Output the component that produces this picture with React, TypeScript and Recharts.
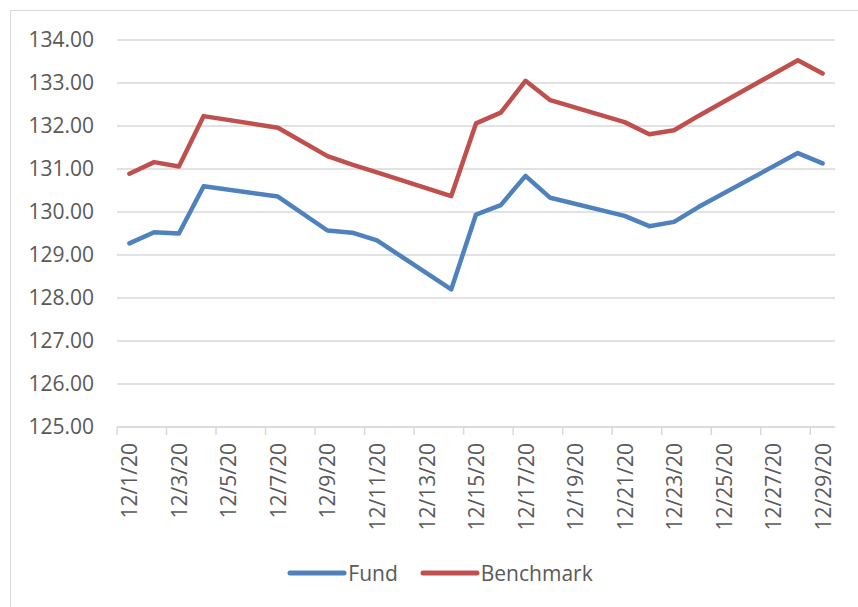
import React from 'react';
import {
  LineChart,
  Line,
  XAxis,
  YAxis,
  CartesianGrid,
  Legend,
} from 'recharts';

// trading days in December 2020
const days = [1, 2, 3, 4, 7, 9, 10, 11, 14, 15, 16, 17, 18, 21, 22, 23, 24, 28, 29];
const fund = [129.27, 129.53, 129.5, 130.6, 130.36, 129.57, 129.52, 129.34, 128.2, 129.94, 130.16, 130.84, 130.33, 129.91, 129.67, 129.77, 130.12, 131.37, 131.13];
const benchmark = [130.89, 131.16, 131.06, 132.23, 131.96, 131.3, 131.1, 130.92, 130.37, 132.06, 132.31, 133.05, 132.6, 132.09, 131.81, 131.9, 132.24, 133.53, 133.22];

const tickDays = [1, 3, 5, 7, 9, 11, 13, 15, 17, 19, 21, 23, 25, 27, 29];
const tickLabels = ['12/1/20', '12/3/20', '12/5/20', '12/7/20', '12/9/20', '12/11/20', '12/13/20', '12/15/20', '12/17/20', '12/19/20', '12/21/20', '12/23/20', '12/25/20', '12/27/20', '12/29/20'];
const yTicks = [125, 126, 127, 128, 129, 130, 131, 132, 133, 134];

const BLUE = '#4F81BD';
const RED = '#C0504D';
const GRID = '#d9d9d9';
const TEXT = '#595959';
const FONT = '"Open Sans", sans-serif';

// each date occupies a one-day slot; points sit in the middle of their slot
const data = days.map((d, i) => ({ x: d - 0.5, fund: fund[i], benchmark: benchmark[i] }));
const xTicks = tickDays.map((d) => d - 1);

function DateTick(props: any) {
  const { x, y, payload } = props;
  const idx = xTicks.indexOf(payload.value);
  return (
    <text
      transform={`translate(${x + 12.4}, ${y + 8}) rotate(-90)`}
      textAnchor="end"
      dominantBaseline="central"
      fill={TEXT}
      fontSize={21}
      fontFamily={FONT}
    >
      {tickLabels[idx]}
    </text>
  );
}

function LegendContent() {
  const items = [
    { name: 'Fund', color: BLUE },
    { name: 'Benchmark', color: RED },
  ];
  return (
    <div style={{ display: 'flex', justifyContent: 'center', alignItems: 'center', height: 30, paddingLeft: 34, fontFamily: FONT, fontSize: 21, color: TEXT }}>
      {items.map((it) => (
        <div key={it.name} style={{ display: 'flex', alignItems: 'center', margin: '0 11px' }}>
          <svg width={60} height={10} style={{ marginRight: 1 }}>
            <line x1={3} y1={5} x2={57} y2={5} stroke={it.color} strokeWidth={5} strokeLinecap="round" />
          </svg>
          <span>{it.name}</span>
        </div>
      ))}
    </div>
  );
}

export default function App() {
  return (
    <div
      style={{
        position: 'absolute',
        left: 10,
        top: 10,
        width: 848,
        height: 597,
        borderLeft: `1.5px solid ${GRID}`,
        borderTop: `1.5px solid ${GRID}`,
        boxSizing: 'border-box',
        overflow: 'hidden',
        background: '#fff',
      }}
    >
      <LineChart width={847} height={596} data={data} margin={{ top: 29, right: 23, left: 0, bottom: 19 }}>
        <CartesianGrid vertical={false} stroke={GRID} strokeWidth={1.5} />
        <XAxis
          type="number"
          dataKey="x"
          domain={[0, 29]}
          ticks={xTicks}
          interval={0}
          height={131}
          tickSize={8}
          tickMargin={0}
          axisLine={{ stroke: GRID, strokeWidth: 1.5 }}
          tickLine={{ stroke: GRID, strokeWidth: 1.5 }}
          tick={<DateTick />}
        />
        <YAxis
          type="number"
          domain={[125, 134]}
          ticks={yTicks}
          interval={0}
          width={106}
          axisLine={false}
          tickLine={false}
          tickMargin={17}
          tickFormatter={(v: number) => v.toFixed(2)}
          tick={{ fill: TEXT, fontSize: 21, fontFamily: FONT }}
        />
        <Legend verticalAlign="bottom" height={30} content={<LegendContent />} />
        <Line
          type="linear"
          dataKey="fund"
          name="Fund"
          stroke={BLUE}
          strokeWidth={4.5}
          strokeLinejoin="round"
          strokeLinecap="round"
          dot={false}
          isAnimationActive={false}
        />
        <Line
          type="linear"
          dataKey="benchmark"
          name="Benchmark"
          stroke={RED}
          strokeWidth={4.5}
          strokeLinejoin="round"
          strokeLinecap="round"
          dot={false}
          isAnimationActive={false}
        />
      </LineChart>
    </div>
  );
}
